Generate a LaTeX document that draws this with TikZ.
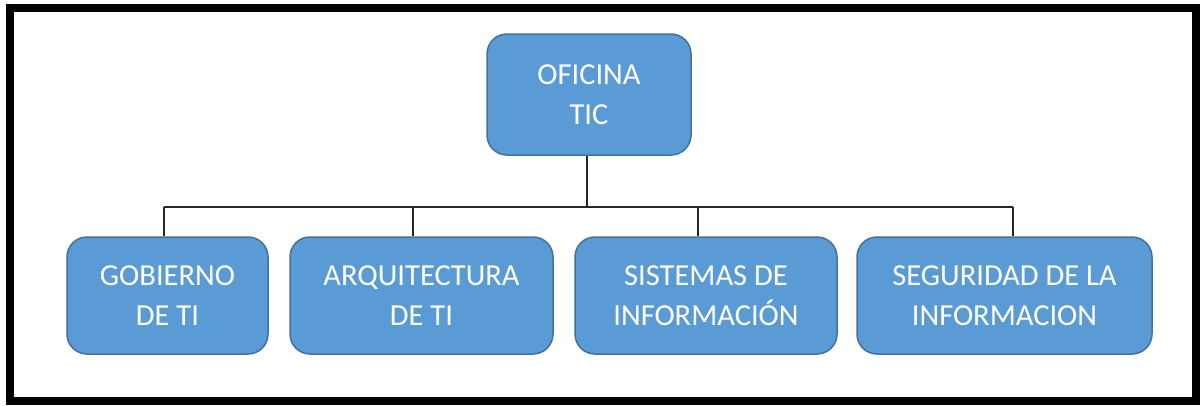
\documentclass[tikz,border=0pt]{standalone}
\usepackage{fontspec}
\setmainfont{Carlito}
\definecolor{boxfill}{HTML}{5B9BD5}
\definecolor{boxline}{HTML}{41719C}
\begin{document}
\begin{tikzpicture}[x=1pt,y=-1pt,
  orgbox/.style={draw=boxline, line width=1.5pt, fill=boxfill, rounded corners=20pt,
    text=white, align=center, inner sep=0pt, font=\fontsize{30.5}{40}\selectfont},
  link/.style={draw=black!85, line width=1.4pt}]
\useasboundingbox (0,0) rectangle (1200,405);
\fill[white] (0,0) rectangle (1200,405);
\draw[line width=8pt] (10,8) rectangle (1196,401);
\node[orgbox, minimum width=204pt, minimum height=121pt] (top) at (589,94.5) {OFICINA\\TIC};
\node[orgbox, minimum width=201pt, minimum height=117pt] (b1) at (167.5,295.5) {GOBIERNO\\DE TI};
\node[orgbox, minimum width=263pt, minimum height=117pt] (b2) at (421.5,295.5) {ARQUITECTURA\\DE TI};
\node[orgbox, minimum width=262pt, minimum height=117pt] (b3) at (706,295.5) {SISTEMAS DE\\INFORMACIÓN};
\node[orgbox, minimum width=295pt, minimum height=117pt] (b4) at (1004.5,295.5) {SEGURIDAD DE LA\\INFORMACION};
\coordinate (bar) at (587,207);
\draw[link] (top.south -| bar) -- (bar);
\draw[link] (164,207) -- (1013,207);
\draw[link] (164,207) -- (164,237 |- b1.north);
\draw[link] (413,207) -- (413,237 |- b2.north);
\draw[link] (698,207) -- (698,237 |- b3.north);
\draw[link] (1013,207) -- (1013,237 |- b4.north);
\end{tikzpicture}
\end{document}
